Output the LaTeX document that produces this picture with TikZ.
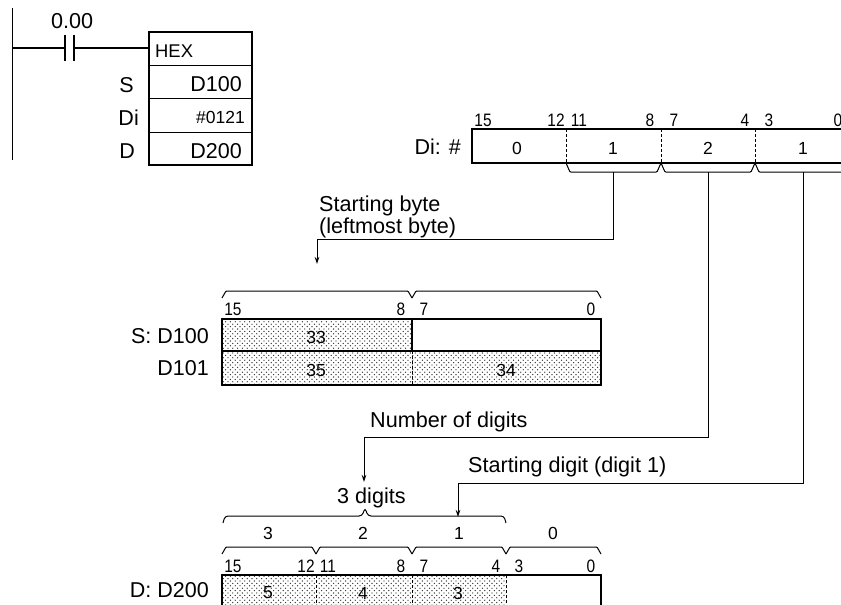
\documentclass[tikz,border=0pt]{standalone}
\usepackage{fontspec}
\setmainfont{Liberation Sans}
\newfontfamily\bitfont[FakeStretch=0.86]{Liberation Sans}
\usetikzlibrary{patterns,arrows.meta}
\pgfdeclarepatternformonly{plcdots}{\pgfqpoint{-1pt}{-1pt}}{\pgfqpoint{4pt}{4pt}}{\pgfqpoint{4.8pt}{4.8pt}}
{
  \pgfpathcircle{\pgfqpoint{0pt}{0pt}}{0.66pt}
  \pgfpathcircle{\pgfqpoint{2.4pt}{2.4pt}}{0.66pt}
  \pgfusepath{fill}
}
\tikzset{
  lbl/.style={inner sep=0pt, anchor=base west, font=\fontsize{21.6}{24}\selectfont},
  reg/.style={inner sep=0pt, anchor=base east, font=\fontsize{21.5}{24}\selectfont},
  small reg/.style={inner sep=0pt, font=\fontsize{17.5}{20}\selectfont},
  bit/.style={inner sep=0pt, font=\fontsize{18}{20}\bitfont},
  val/.style={inner sep=0pt, font=\fontsize{17.5}{19}\selectfont},
  heavy/.style={line width=1.7pt},
  brace/.style={line width=1pt, rounded corners=0.8pt},
  lead/.style={line width=1pt, -{Stealth[length=7pt,width=4.5pt]}},
  shade/.style={pattern=plcdots, pattern color=black!85}
}
\begin{document}
\begin{tikzpicture}[x=1pt, y=-1pt]
\useasboundingbox (0,0) rectangle (841,605);
\clip (0,0) rectangle (841,605);

% ladder part
\coordinate (railT) at (12,8);
\coordinate (railB) at (12,160);
\coordinate (rungL) at (12,48);
\coordinate (contL) at (65,48);
\coordinate (contR) at (74,48);
\coordinate (rungR) at (149,48);
\draw[line width=1pt] (railT) -- (railB);
\draw[line width=1.2pt] (rungL) -- (contL);
\draw[line width=1.2pt] (contR) -- (rungR);
\draw[line width=1.2pt] (65,35) -- (65,61);
\draw[line width=1.2pt] (74,35) -- (74,61);
\draw[heavy] (149,32) rectangle (252,165);
\draw[line width=0.9pt] (149,65) -- (252,65);
\draw[line width=0.9pt] (149,98) -- (252,98);
\draw[line width=0.9pt] (149,132) -- (252,132);
\node[lbl] (cont) at (51,28) {0.00};
\node[small reg, anchor=west, font=\fontsize{18.4}{20}\selectfont] (hex) at (155,51) {HEX};
\node[reg] (opS) at (134,92) {S};
\node[reg] (opDi) at (139,125) {Di};
\node[reg] (opD) at (135,158) {D};
\node[reg] (argS) at (242,91) {D100};
\node[small reg, anchor=east] (argDi) at (245,117) {\#0121};
\node[reg] (argD) at (242,158) {D200};

% Di word
\draw[heavy] (841,129) -- (472,129) -- (472,163) -- (841,163);
\draw[densely dashed, line width=0.9pt] (566,129) -- (566,163);
\draw[densely dashed, line width=0.9pt] (661,129) -- (661,163);
\draw[densely dashed, line width=0.9pt] (755,129) -- (755,163);
\node[reg] (diName) at (461,154) {Di: \#};
\foreach \x/\t [count=\i] in {483/15,556/12,579/11,650/8,674/7,745/4,769/3,838/0}
  \node[bit] (dibit\i) at (\x,120) {\t};
\foreach \x/\t [count=\i] in {517/0,613/1,708/2,803/1}
  \node[val] (dival\i) at (\x,148) {\t};
\foreach \a/\b in {566/661,661/755,755/850}
  \draw[brace] (\a,163) -- (\a+4,172) -- (\b-4,172) -- (\b,163);

% S words
\fill[shade] (222,319) rectangle (412,351);
\fill[shade] (222,351) rectangle (601,385);
\draw[heavy] (222,319) rectangle (601,385);
\draw[line width=1.2pt] (222,351) -- (601,351);
\draw[line width=1.2pt] (412,319) -- (412,351);
\draw[densely dashed, line width=0.9pt] (412,351) -- (412,385);
\node[reg] (sName) at (209,343) {S: D100};
\node[reg] (sNext) at (209,375) {D101};
\foreach \x/\t [count=\i] in {233/15,401/8,424/7,591/0}
  \node[bit] (sbit\i) at (\x,309) {\t};
\node[val] (s33) at (316,337) {33};
\node[val] (s35) at (316,370) {35};
\node[val] (s34) at (506,370) {34};
\foreach \a/\b in {222/412,412/601}
  \draw[brace] (\a,298) -- (\a+4,291) -- (\b-4,291) -- (\b,298);

% D word
\fill[shade] (222,575) rectangle (506,605);
\draw[heavy] (222,610) -- (222,575) -- (601,575) -- (601,610);
\draw[densely dashed, line width=0.9pt] (316,575) -- (316,605);
\draw[densely dashed, line width=0.9pt] (412,575) -- (412,605);
\draw[densely dashed, line width=0.9pt] (506,575) -- (506,605);
\node[reg] (dName) at (209,597) {D: D200};
\foreach \x/\t [count=\i] in {233/15,306/12,328/11,401/8,424/7,496/4,519/3,591/0}
  \node[bit] (dbit\i) at (\x,566) {\t};
\foreach \x/\t [count=\i] in {268/5,363/4,458/3}
  \node[val] (dval\i) at (\x,593) {\t};
\foreach \x/\t [count=\i] in {268/3,363/2,459/1,553/0}
  \node[val] (dig\i) at (\x,533) {\t};
\foreach \a/\b in {222/316,316/412,412/506,506/601}
  \draw[brace] (\a,554) -- (\a+4,547) -- (\b-4,547) -- (\b,554);
\draw[line width=1pt, rounded corners=3pt] (223,523) -- (225,516) -- (362,516) -- (365,508) -- (368,516) -- (504,516) -- (506,523);
\coordinate (digitOne) at (458,517);
\coordinate (byteTip) at (317,264);
\coordinate (digitsTip) at (364,482);

% labels and leaders
\node[lbl] (byteA) at (319,211) {Starting byte};
\node[lbl] (byteB) at (319,233) {(leftmost byte)};
\node[lbl] (numDig) at (370,427) {Number of digits};
\node[lbl] (startDig) at (468,472) {Starting digit (digit 1)};
\node[lbl] (threeDig) at (337,503) {3 digits};
\coordinate (stemA) at (613,172);
\coordinate (stemB) at (708,172);
\coordinate (stemC) at (803,172);
\draw[lead] (stemA) |- (317,239) -- (byteTip);
\draw[lead] (stemB) |- (364,437) -- (digitsTip);
\draw[lead] (stemC) |- (458,483) -- (digitOne);
\end{tikzpicture}
\end{document}
